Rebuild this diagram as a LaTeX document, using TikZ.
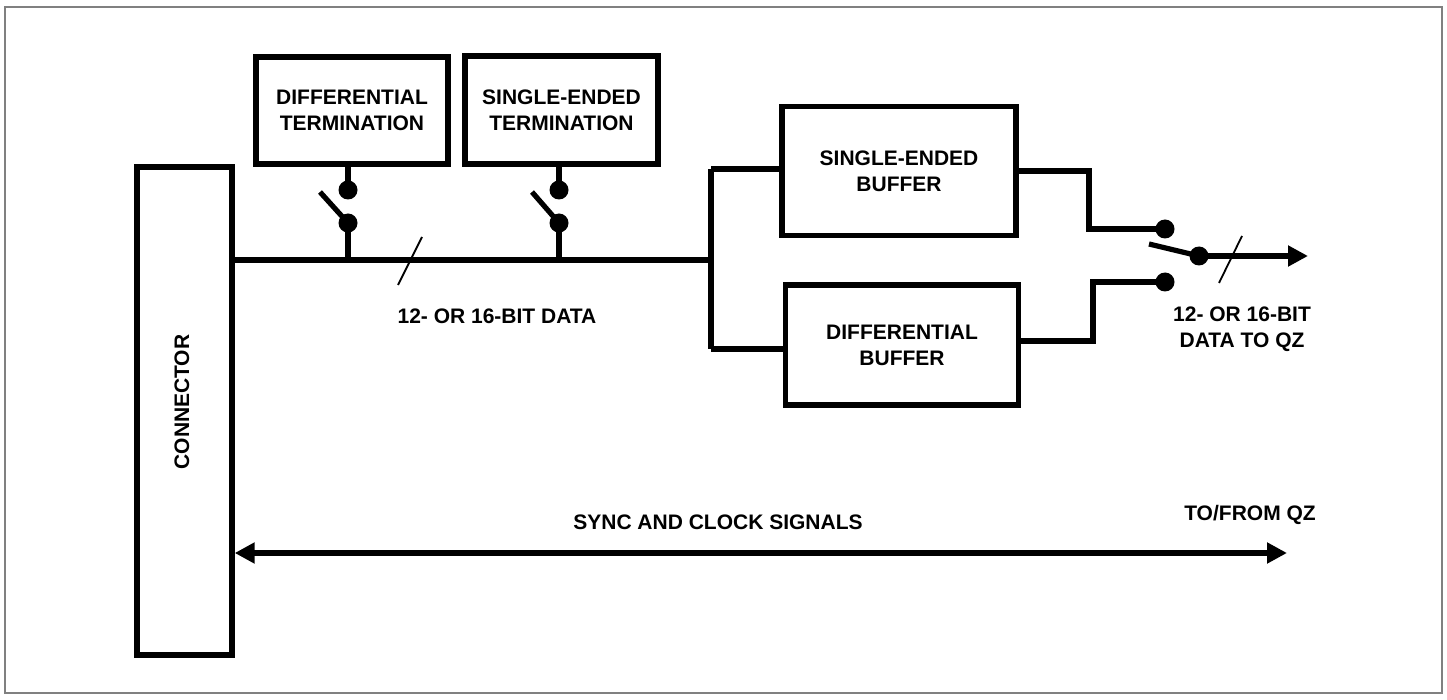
\documentclass[tikz,border=0pt]{standalone}
\usepackage{fontspec}
\setmainfont{Liberation Sans}
\usetikzlibrary{arrows.meta}
\begin{document}
\begin{tikzpicture}[x=0.5pt,y=-0.5pt,
  blk/.style={draw,line width=2.7pt,inner sep=0pt,align=center,font=\bfseries\fontsize{10.5}{13}\selectfont},
  wire/.style={line width=2.6pt},
  thin/.style={line width=0.9pt},
  dot/.style={circle,fill,inner sep=0pt,minimum size=9.5pt},
  lbl/.style={align=center,font=\bfseries\fontsize{10.5}{13}\selectfont},
  tip/.style={-{Triangle[length=10pt,width=10pt]}}
]
\useasboundingbox (0,0) rectangle (1447,700);
\draw[gray,line width=0.6pt] (5,7) rectangle (1442,693);

% blocks
\node[blk,minimum width=47.5pt,minimum height=244pt] (conn) at (184.5,411) {};
\node[lbl,rotate=90] (connt) at (182,402) {CONNECTOR};
\node[blk,minimum width=96pt,minimum height=53.5pt] (dterm) at (352,110.5) {DIFFERENTIAL\\TERMINATION};
\node[blk,minimum width=96.5pt,minimum height=54pt] (sterm) at (561.5,110) {SINGLE-ENDED\\TERMINATION};
\node[blk,minimum width=117pt,minimum height=64.5pt] (sbuf) at (899,171) {SINGLE-ENDED\\BUFFER};
\node[blk,minimum width=116.5pt,minimum height=60pt] (dbuf) at (902,345) {DIFFERENTIAL\\BUFFER};

% coordinates
\coordinate (dl) at (conn.east |- 0,260);
\coordinate (br) at (711,260);
\coordinate (brt) at (711,169);
\coordinate (brb) at (711,349);
\coordinate (s1b) at (348,260);
\coordinate (s2b) at (559,260);
\coordinate (l1) at (320,192);
\coordinate (l2) at (532,192);

% termination switches
\node[dot] (d1u) at (348,190) {};
\node[dot] (d1l) at (348,223) {};
\node[dot] (d2u) at (559,190) {};
\node[dot] (d2l) at (559,223) {};
\draw[wire] (dterm.south -| d1u) -- (d1u.center);
\draw[wire] (d1l.center) -- (s1b);
\draw[wire] (d1l.center) -- (l1);
\draw[wire] (sterm.south -| d2u) -- (d2u.center);
\draw[wire] (d2l.center) -- (s2b);
\draw[wire] (d2l.center) -- (l2);

% data bus
\draw[wire] (dl) -- (br);
\coordinate (sl1a) at (398,285);
\coordinate (sl1b) at (422,237);
\draw[thin] (sl1a) -- (sl1b);
\node[lbl] (dtxt) at (497,316) {12- OR 16-BIT DATA};
\draw[wire] (brt) -- (brb);
\draw[wire] (brt) -- (sbuf.west |- brt);
\draw[wire] (brb) -- (dbuf.west |- brb);

% output selector
\node[dot] (o1) at (1165,229) {};
\node[dot] (o2) at (1165,282) {};
\node[dot] (oc) at (1199,256) {};
\coordinate (ol) at (1149,244);
\coordinate (oend) at (1308,256);
\draw[wire] (sbuf.east |- 0,171) -- (1089,171) -- (1089,229) -- (o1.center);
\draw[wire] (dbuf.east |- 0,341) -- (1093,341) -- (1093,282) -- (o2.center);
\draw[wire] (ol) -- (oc.center);
\draw[wire,tip] (oc.center) -- (oend);
\coordinate (sl2a) at (1219,283);
\coordinate (sl2b) at (1242,236);
\draw[thin] (sl2a) -- (sl2b);
\node[lbl] (otxt) at (1242,329) {12- OR 16-BIT\\DATA TO QZ};

% sync
\coordinate (syr) at (1287,553);
\draw[wire,{Triangle[length=10pt,width=10pt]}-{Triangle[length=10pt,width=10pt]}] (conn.east |- syr) -- (syr);
\node[lbl] (stxt) at (718,522) {SYNC AND CLOCK SIGNALS};
\node[lbl] (qtxt) at (1250,515) {TO/FROM QZ};
\end{tikzpicture}
\end{document}
